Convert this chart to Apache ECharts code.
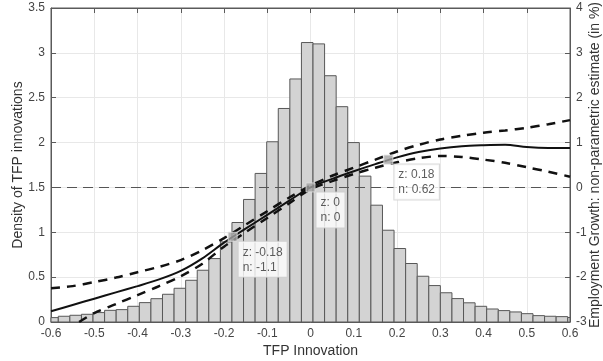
<!DOCTYPE html>
<html><head><meta charset="utf-8">
<script src="https://cdn.jsdelivr.net/npm/echarts@6/dist/echarts.min.js"></script>
<style>html,body{margin:0;padding:0;background:#fff}#c{width:603px;height:361px}</style>
</head><body><div id="c"></div>
<script>
// Histogram of TFP innovations (density), uniform bins
const binStart = -0.6099;
const binWidth = 0.02677;
const density = [0.049,0.064,0.075,0.086,0.105,0.13,0.138,0.175,0.216,0.26,0.309,0.376,0.465,0.577,0.707,0.893,1.109,1.366,1.656,2.009,2.38,2.709,3.115,3.10,2.745,2.40,2.00,1.626,1.302,1.023,0.819,0.652,0.51,0.406,0.326,0.261,0.214,0.175,0.145,0.127,0.112,0.093,0.071,0.064,0.06,0.05];

// Non-parametric estimate (right axis, %)
const xs = [-0.6,-0.55,-0.5,-0.45,-0.4,-0.35,-0.3,-0.25,-0.2,-0.15,-0.1,-0.05,0,0.05,0.1,0.15,0.2,0.25,0.3,0.35,0.4,0.45,0.5,0.55,0.6];
const estimate = [-2.76,-2.62,-2.48,-2.34,-2.20,-2.05,-1.86,-1.58,-1.23,-0.92,-0.61,-0.30,0,0.19,0.36,0.52,0.67,0.79,0.87,0.92,0.94,0.95,0.90,0.88,0.88];
const upperCI = [-2.25,-2.20,-2.11,-2.01,-1.89,-1.77,-1.62,-1.40,-1.13,-0.83,-0.53,-0.23,0.04,0.26,0.44,0.62,0.80,0.95,1.07,1.15,1.22,1.27,1.33,1.41,1.50];
const lowerXs = [-0.535,-0.5,-0.45,-0.4,-0.35,-0.3,-0.25,-0.2,-0.15,-0.1,-0.05,0,0.05,0.1,0.15,0.2,0.25,0.3,0.35,0.4,0.45,0.5,0.55,0.6];
const lowerCI = [-3.0,-2.80,-2.60,-2.40,-2.20,-1.98,-1.70,-1.32,-1.00,-0.68,-0.36,-0.04,0.14,0.30,0.44,0.56,0.65,0.70,0.68,0.62,0.55,0.45,0.35,0.24];

// Data tips
const tipZ = [-0.18, 0, 0.18];
const tipN = [-1.1, 0, 0.62];

const font = 'Liberation Sans, Arial, Helvetica, sans-serif';
const chart = echarts.init(document.getElementById('c'));

const histData = density.map((d, i) => [binStart + i * binWidth, binStart + (i + 1) * binWidth, d]);
const pair = (a, b) => a.map((v, i) => [v, b[i]]);
const axisCol = '#5a5a5a';

chart.setOption({
  animation: false,
  grid: {left: 51, right: 33, top: 8, bottom: 39, containLabel: false, outerBoundsMode: 'none',
    show: true, borderColor: axisCol, borderWidth: 1, backgroundColor: 'transparent'},
  xAxis: [{
    type: 'value', min: -0.6, max: 0.6, interval: 0.1,
    name: 'TFP Innovation', nameLocation: 'middle', nameGap: 22, nameMoveOverlap: false,
    nameTextStyle: {fontFamily: font, fontSize: 14, color: '#333'},
    axisLine: {show: true, onZero: false, lineStyle: {color: axisCol}},
    axisTick: {show: true, inside: true, length: 5, lineStyle: {color: axisCol}},
    axisLabel: {fontFamily: font, fontSize: 12, color: '#444', margin: 6,
      formatter: v => { const r = Math.round(v * 10) / 10; return r === 0 ? '0' : String(r); }},
    splitLine: {show: true, lineStyle: {color: '#e8e8e8', width: 1}}
  }, {
    type: 'value', min: -0.6, max: 0.6, interval: 0.1, position: 'top',
    axisLine: {show: true, onZero: false, lineStyle: {color: axisCol}},
    axisTick: {show: true, inside: true, length: 5, lineStyle: {color: axisCol}},
    axisLabel: {show: false}, splitLine: {show: false}
  }],
  yAxis: [{
    type: 'value', min: 0, max: 3.5, interval: 0.5, position: 'left',
    name: 'Density of TFP innovations', nameLocation: 'middle', nameGap: 26, nameMoveOverlap: false,
    nameTextStyle: {fontFamily: font, fontSize: 14, color: '#333'},
    axisLine: {show: true, onZero: false, lineStyle: {color: axisCol}},
    axisTick: {show: true, inside: true, length: 5, lineStyle: {color: axisCol}},
    axisLabel: {fontFamily: font, fontSize: 12, color: '#444', margin: 6},
    splitLine: {show: true, lineStyle: {color: '#e8e8e8', width: 1}}
  }, {
    type: 'value', min: -3, max: 4, interval: 1, position: 'right',
    name: 'Employment Growth: non-parametric estimate (in %)', nameLocation: 'middle', nameGap: 18, nameMoveOverlap: false,
    nameTextStyle: {fontFamily: font, fontSize: 14, color: '#333'},
    axisLine: {show: true, onZero: false, lineStyle: {color: axisCol}},
    axisTick: {show: true, inside: true, length: 5, lineStyle: {color: axisCol}},
    axisLabel: {fontFamily: font, fontSize: 12, color: '#444', margin: 6},
    splitLine: {show: false}
  }],
  series: [{
    type: 'custom', xAxisIndex: 0, yAxisIndex: 0, data: histData, z: 1,
    renderItem: (params, api) => {
      const p0 = api.coord([api.value(0), api.value(2)]);
      const p1 = api.coord([api.value(1), 0]);
      const shape = echarts.graphic.clipRectByRect(
        {x: p0[0], y: p0[1], width: p1[0] - p0[0], height: p1[1] - p0[1]},
        {x: params.coordSys.x, y: params.coordSys.y, width: params.coordSys.width, height: params.coordSys.height});
      return shape && {type: 'rect', shape: shape, style: {fill: '#d3d3d3', stroke: '#585858', lineWidth: 1}};
    }
  }, {
    type: 'line', xAxisIndex: 0, yAxisIndex: 1, data: pair(xs, estimate), smooth: 0.3, showSymbol: false, z: 3,
    lineStyle: {color: '#111', width: 2},
    markLine: {silent: true, symbol: 'none', label: {show: false}, z: 2,
      lineStyle: {color: '#555', width: 1, type: [10, 6]}, data: [{yAxis: 0}]}
  }, {
    type: 'line', xAxisIndex: 0, yAxisIndex: 1, data: pair(xs, upperCI), smooth: 0.3, showSymbol: false, z: 3,
    lineStyle: {color: '#111', width: 2.5, type: [9, 7]}
  }, {
    type: 'line', xAxisIndex: 0, yAxisIndex: 1, data: pair(lowerXs, lowerCI), smooth: 0.3, showSymbol: false, z: 3,
    lineStyle: {color: '#111', width: 2.5, type: [9, 7]}
  }, {
    type: 'scatter', xAxisIndex: 0, yAxisIndex: 1, z: 5,
    data: pair(tipZ, tipN), symbol: 'rect', symbolSize: 9,
    itemStyle: {color: '#a3a3a3', borderColor: '#e0e0e0', borderWidth: 1},
    label: {show: true, position: [11, 10], align: 'left', verticalAlign: 'top',
      formatter: p => 'z: ' + p.value[0] + '\nn: ' + p.value[1],
      fontFamily: font, fontSize: 12, color: '#333', lineHeight: 15,
      backgroundColor: '#fff', borderColor: '#d0d0d0', borderWidth: 1, padding: [3, 4, 2, 4]}
  }]
});
</script></body></html>
